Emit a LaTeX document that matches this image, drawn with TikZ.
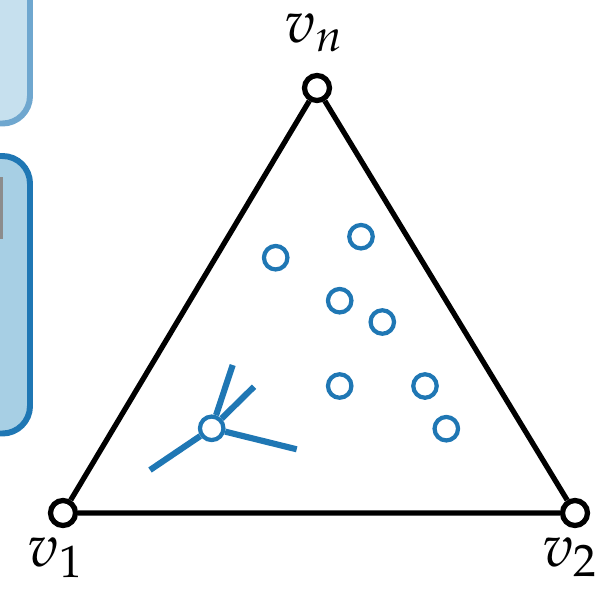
\documentclass[tikz,border=0pt]{standalone}
\usepackage{mathpazo}
\usetikzlibrary{positioning}
\definecolor{tabblue}{RGB}{31,119,180}
\definecolor{paleblue}{RGB}{198,224,238}
\definecolor{palerim}{RGB}{111,167,207}
\definecolor{midblue}{RGB}{167,207,228}
\begin{document}
\begin{tikzpicture}[
    x=0.02cm, y=-0.02cm,
    vertex/.style={circle,draw=black,fill=white,line width=3pt,inner sep=0pt,minimum size=0.5cm},
    point/.style={circle,draw=tabblue,fill=white,line width=2.4pt,inner sep=0pt,minimum size=0.47cm},
    edge/.style={draw,line width=3pt},
    spoke/.style={draw=tabblue,line width=3.5pt},
    panel/.style={line width=3.4pt,rounded corners=0.55cm},
    lbl/.style={font=\fontsize{34}{40}\selectfont,inner sep=0pt}
  ]
  \useasboundingbox (0,0) rectangle (603,589);
  % cut-off panels on the left
  \draw[panel,fill=paleblue,draw=palerim] (-100,-60) rectangle (30,123.5);
  \draw[panel,fill=midblue,draw=tabblue] (-100,156) rectangle (30,433.5);
  \fill[gray!90] (-10,177) rectangle (3.3,239);

  % simplex
  \node[vertex] (v1) at (63,513) {};
  \node[vertex] (v2) at (575,513) {};
  \node[vertex] (vn) at (317,88) {};
  \draw[edge] (v1) -- (v2) -- (vn) -- (v1);
  \node[lbl,below=0.18cm of v1,xshift=-0.15cm] (l1) {$v_1$};
  \node[lbl,below=0.18cm of v2,xshift=-0.1cm] (l2) {$v_2$};
  \node[lbl,above=0.42cm of vn,xshift=-0.06cm] (ln) {$v_n$};

  % sample points
  \foreach \i/\x/\y in {1/275.7/257.7, 2/361/236.7, 3/339.7/300.7, 4/382.3/322,
                        5/339.7/386, 6/425/386, 7/446.3/428.7}
    \node[point] (p\i) at (\x,\y) {};

  % point with spokes
  \coordinate (s1) at (150,470);
  \coordinate (s2) at (296.7,449.3);
  \coordinate (s3) at (232.7,365);
  \coordinate (s4) at (254,386.7);
  \node[point] (hub) at (211.7,428.3) {};
  \foreach \j in {1,...,4}
    \draw[spoke] (hub) -- (s\j);
\end{tikzpicture}
\end{document}
